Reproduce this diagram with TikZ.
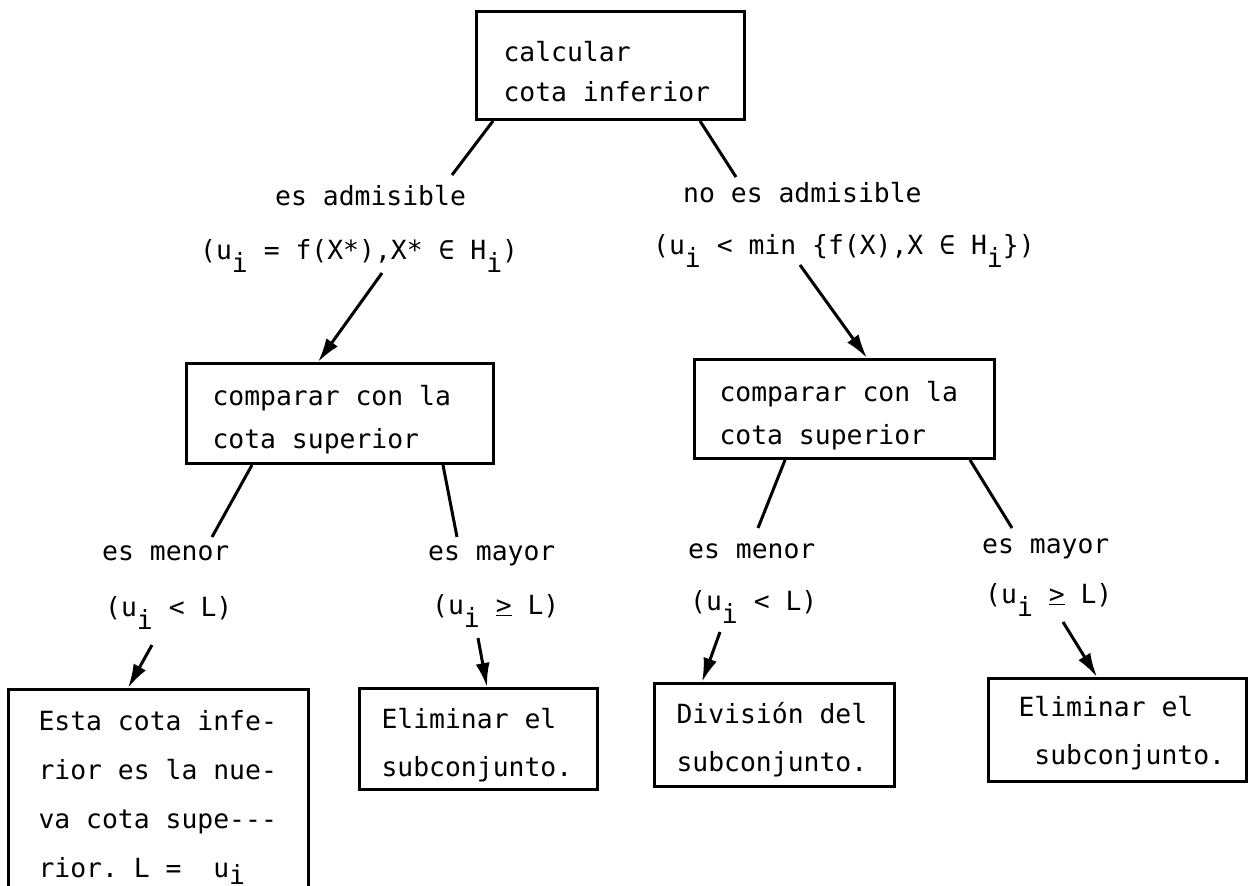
\documentclass[tikz,border=0pt]{standalone}
\usepackage{fontspec}
\setmonofont{DejaVu Sans Mono}
\usetikzlibrary{arrows.meta}
% typewriter-style lowered subscripts and underlined "greater than"
\newcommand\subi{\raisebox{-0.5em}{i}}
\newcommand\subj{\raisebox{-0.3em}{i}}
\newcommand\geqline{\underline{>}}
% full typewriter word spaces inside aligned box texts
\newcommand\fullsp{\spaceskip=\fontdimen2\font\xspaceskip=\fontdimen2\font\relax}
% extra height of the first line, to place the text inside a box
\newcommand\lift[1]{\rule{0pt}{#1pt}}
\begin{document}
\begin{tikzpicture}[x=1pt,y=-1pt,
  every node/.style={font=\ttfamily\fontsize{26.4}{48}\selectfont},
  box/.style={draw, line width=3pt, anchor=north west, align=left, inner ysep=0pt},
  lbl/.style={anchor=base west, inner sep=0pt},
  link/.style={line width=3pt},
  arr/.style={line width=3pt, -{Latex[length=24pt,width=14pt]}}]
\useasboundingbox (0,0) rectangle (1253,886);

% boxes
\node[box, minimum width=268, minimum height=108, inner xsep=27, text width=214,
      font=\ttfamily\fontsize{26.4}{40}\selectfont] (T) at (475,10)
      {\fullsp\lift{32}calcular\\cota inferior};
\node[box, minimum width=307, minimum height=100, inner xsep=26, text width=255,
      font=\ttfamily\fontsize{26.4}{43}\selectfont] (L2) at (185,362)
      {\fullsp\lift{33}comparar con la\\cota superior};
\node[box, minimum width=300, minimum height=99, inner xsep=25, text width=250,
      font=\ttfamily\fontsize{26.4}{43}\selectfont] (R2) at (693,358)
      {\fullsp\lift{34}comparar con la\\cota superior};
\node[box, minimum width=300, minimum height=216, inner xsep=30, text width=240,
      font=\ttfamily\fontsize{26.4}{49}\selectfont] (L3a) at (7,688)
      {\fullsp Esta cota infe-\\rior es la nue-\\va cota supe---\\rior. L =~~u\subj};
\node[box, minimum width=238, minimum height=101, inner xsep=22, text width=194] (L3b) at (358,687)
      {\fullsp\lift{33}Eliminar el\\subconjunto.};
\node[box, minimum width=240, minimum height=103, inner xsep=22, text width=196] (R3a) at (653,682)
      {\fullsp\lift{31}División del\\subconjunto.};
\node[box, minimum width=258, minimum height=103, inner xsep=30, text width=198] (R3b) at (987,677)
      {\fullsp\lift{27}Eliminar el\\~subconjunto.};

% branch labels
\node[lbl] (adm)   at (275,205) {es admisible};
\node[lbl] (admf)  at (200,259) {(u\subi{} = f(X*),X* ∈ H\subi)};
\node[lbl] (nad)   at (683,202) {no es admisible};
\node[lbl] (nadf)  at (653,254) {(u\subi{} < min \{f(X),X ∈ H\subi\})};
\node[lbl] (lmen)  at (102,560) {es menor};
\node[lbl] (lmenf) at (105,616) {(u\subi{} < L)};
\node[lbl] (lmay)  at (428,560) {es mayor};
\node[lbl] (lmayf) at (432,614) {(u\subi{} \geqline{} L)};
\node[lbl] (rmen)  at (688,558) {es menor};
\node[lbl] (rmenf) at (690,610) {(u\subi{} < L)};
\node[lbl] (rmay)  at (982,553) {es mayor};
\node[lbl] (rmayf) at (985,603) {(u\subi{} \geqline{} L)};

% free ends of the connectors
\coordinate (t1) at (452,175);
\coordinate (t2) at (736,177);
\coordinate (a1) at (382,273);
\coordinate (a2) at (800,265);
\coordinate (l1) at (212,537);
\coordinate (l2) at (457,537);
\coordinate (r1) at (758,528);
\coordinate (r2) at (1012,528);
\coordinate (b1) at (152,645);
\coordinate (b2) at (478,638);
\coordinate (b3) at (720,632);
\coordinate (b4) at (1063,622);

% lines leaving the boxes
\draw[link] ([xshift=18pt]T.south west) -- (t1);
\draw[link] ([xshift=225pt]T.south west) -- (t2);
\draw[link] ([xshift=67pt]L2.south west) -- (l1);
\draw[link] ([xshift=258pt]L2.south west) -- (l2);
\draw[link] ([xshift=92pt]R2.south west) -- (r1);
\draw[link] ([xshift=277pt]R2.south west) -- (r2);

% arrows into the boxes
\draw[arr] (a1) -- ([xshift=133pt]L2.north west);
\draw[arr] (a2) -- ([xshift=174pt]R2.north west);
\draw[arr] (b1) -- ([xshift=121pt]L3a.north west);
\draw[arr] (b2) -- ([xshift=129pt]L3b.north west);
\draw[arr] (b3) -- ([xshift=49pt]R3a.north west);
\draw[arr] (b4) -- ([xshift=110pt]R3b.north west);
\end{tikzpicture}
\end{document}
